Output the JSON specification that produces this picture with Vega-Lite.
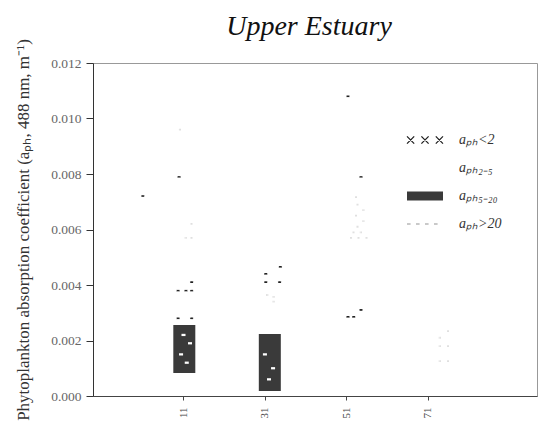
{
  "$schema": "https://vega.github.io/schema/vega-lite/v6.json",
  "autosize": "none",
  "width": 444,
  "height": 333,
  "padding": {"left": 93, "top": 63, "right": 1, "bottom": 35},
  "background": "white",
  "config": {
    "font": "Liberation Serif",
    "view": {"stroke": "#999", "strokeWidth": 1},
    "legend": {"symbolSize": 1296}
  },
  "title": {
    "text": "Upper Estuary",
    "font": "Liberation Serif",
    "fontStyle": "italic",
    "fontWeight": "normal",
    "fontSize": 28,
    "color": "#111",
    "anchor": "middle",
    "dx": -6,
    "offset": -2
  },
  "datasets": {
    "bars": [
      {"pos": 1.01, "lo": 0.00083, "hi": 0.00256, "series": "aₚₕ₅₋₂₀"},
      {"pos": 2.06, "lo": 0.00018, "hi": 0.00223, "series": "aₚₕ₅₋₂₀"}
    ],
    "points": [
      {"pos": 0.5, "value": 0.0072, "series": "aₚₕ<2"},
      {"pos": 0.958, "value": 0.0096, "series": "aₚₕ>20"},
      {"pos": 0.946, "value": 0.0079, "series": "aₚₕ<2"},
      {"pos": 1.10, "value": 0.0062, "series": "aₚₕ>20"},
      {"pos": 1.03, "value": 0.0057, "series": "aₚₕ>20"},
      {"pos": 1.10, "value": 0.0057, "series": "aₚₕ>20"},
      {"pos": 1.10, "value": 0.0041, "series": "aₚₕ<2"},
      {"pos": 0.934, "value": 0.0038, "series": "aₚₕ<2"},
      {"pos": 1.03, "value": 0.0038, "series": "aₚₕ<2"},
      {"pos": 1.10, "value": 0.0038, "series": "aₚₕ<2"},
      {"pos": 0.934, "value": 0.0028, "series": "aₚₕ<2"},
      {"pos": 1.10, "value": 0.0028, "series": "aₚₕ<2"},
      {"pos": 1.00, "value": 0.0022, "series": "aₚₕ₂₋₅"},
      {"pos": 1.08, "value": 0.0019, "series": "aₚₕ₂₋₅"},
      {"pos": 0.97, "value": 0.0015, "series": "aₚₕ₂₋₅"},
      {"pos": 1.04, "value": 0.0012, "series": "aₚₕ₂₋₅"},
      {"pos": 2.19, "value": 0.00465, "series": "aₚₕ<2"},
      {"pos": 2.01, "value": 0.0044, "series": "aₚₕ<2"},
      {"pos": 2.01, "value": 0.0041, "series": "aₚₕ<2"},
      {"pos": 2.18, "value": 0.0041, "series": "aₚₕ<2"},
      {"pos": 2.03, "value": 0.00364, "series": "aₚₕ>20"},
      {"pos": 2.11, "value": 0.00357, "series": "aₚₕ>20"},
      {"pos": 2.11, "value": 0.0034, "series": "aₚₕ>20"},
      {"pos": 2.00, "value": 0.0015, "series": "aₚₕ₂₋₅"},
      {"pos": 2.10, "value": 0.0010, "series": "aₚₕ₂₋₅"},
      {"pos": 2.05, "value": 0.0006, "series": "aₚₕ₂₋₅"},
      {"pos": 3.02, "value": 0.0108, "series": "aₚₕ<2"},
      {"pos": 3.18, "value": 0.0079, "series": "aₚₕ<2"},
      {"pos": 3.12, "value": 0.00717, "series": "aₚₕ>20"},
      {"pos": 3.14, "value": 0.0069, "series": "aₚₕ>20"},
      {"pos": 3.21, "value": 0.0067, "series": "aₚₕ>20"},
      {"pos": 3.12, "value": 0.0065, "series": "aₚₕ>20"},
      {"pos": 3.21, "value": 0.0063, "series": "aₚₕ>20"},
      {"pos": 3.14, "value": 0.0061, "series": "aₚₕ>20"},
      {"pos": 3.09, "value": 0.0059, "series": "aₚₕ>20"},
      {"pos": 3.18, "value": 0.0059, "series": "aₚₕ>20"},
      {"pos": 3.06, "value": 0.0057, "series": "aₚₕ>20"},
      {"pos": 3.15, "value": 0.0057, "series": "aₚₕ>20"},
      {"pos": 3.25, "value": 0.0057, "series": "aₚₕ>20"},
      {"pos": 3.18, "value": 0.0031, "series": "aₚₕ<2"},
      {"pos": 3.02, "value": 0.00285, "series": "aₚₕ<2"},
      {"pos": 3.09, "value": 0.00285, "series": "aₚₕ<2"},
      {"pos": 4.25, "value": 0.00234, "series": "aₚₕ>20"},
      {"pos": 4.15, "value": 0.0021, "series": "aₚₕ>20"},
      {"pos": 4.15, "value": 0.0018, "series": "aₚₕ>20"},
      {"pos": 4.25, "value": 0.0018, "series": "aₚₕ>20"},
      {"pos": 4.15, "value": 0.00126, "series": "aₚₕ>20"},
      {"pos": 4.25, "value": 0.00126, "series": "aₚₕ>20"}
    ]
  },
  "layer": [
    {
      "data": {"name": "bars"},
      "mark": {"type": "bar", "width": 22, "color": "#3a3a3a"},
      "encoding": {
        "x": {"field": "pos", "type": "quantitative"},
        "y": {"field": "lo", "type": "quantitative"},
        "y2": {"field": "hi"}
      }
    },
    {
      "data": {"name": "points"},
      "mark": {"type": "point", "filled": false, "size": 5, "strokeWidth": 1.8, "opacity": 1},
      "encoding": {
        "x": {
          "field": "pos",
          "type": "quantitative",
          "scale": {"domain": [-0.05, 5.28], "nice": false, "zero": false},
          "axis": {
            "title": null,
            "values": [1, 2, 3, 4],
            "labelExpr": "datum.value == 1 ? '11' : datum.value == 2 ? '31' : datum.value == 3 ? '51' : '71'",
            "labelAngle": 270,
            "labelFont": "Liberation Serif",
            "labelFontSize": 11,
            "labelColor": "#444",
            "labelPadding": 7,
            "tickSize": 4,
            "tickColor": "#444",
            "domainColor": "#444",
            "grid": false
          }
        },
        "y": {
          "field": "value",
          "type": "quantitative",
          "scale": {"domain": [0, 0.012], "nice": false},
          "axis": {
            "title": "Phytoplankton absorption coefficient (aₚₕ, 488 nm, m⁻¹)",
            "titleFont": "Liberation Serif",
            "titleFontSize": 17,
            "titleFontWeight": "normal",
            "titleColor": "#333",
            "titlePadding": 18,
            "values": [0, 0.002, 0.004, 0.006, 0.008, 0.01, 0.012],
            "format": ".3f",
            "labelFont": "Liberation Serif",
            "labelFontSize": 13.5,
            "labelColor": "#666",
            "labelPadding": 5,
            "tickSize": 7,
            "tickColor": "#333",
            "domainColor": "#333",
            "grid": false
          }
        },
        "color": {
          "field": "series",
          "type": "nominal",
          "scale": {
            "domain": ["aₚₕ<2", "aₚₕ₂₋₅", "aₚₕ₅₋₂₀", "aₚₕ>20"],
            "range": ["#222222", "#ffffff", "#3a3a3a", "#b8b8b8"]
          },
          "legend": {
            "title": null,
            "orient": "none",
            "legendX": 313,
            "legendY": 63,
            "padding": 0,
            "rowPadding": 0,
            "clipHeight": 28,
            "symbolSize": 1296,
            "labelFont": "Liberation Serif",
            "labelFontSize": 14,
            "labelFontStyle": "italic",
            "labelColor": "#333",
            "labelOffset": 15,
            "symbolStrokeWidth": 1.3
          }
        },
        "shape": {
          "field": "series",
          "type": "nominal",
          "scale": {
            "domain": ["aₚₕ<2", "aₚₕ₂₋₅", "aₚₕ₅₋₂₀", "aₚₕ>20"],
            "range": [
              "M-1,-0.2L-0.6,0.2M-1,0.2L-0.6,-0.2M-0.2,-0.2L0.2,0.2M-0.2,0.2L0.2,-0.2M0.6,-0.2L1,0.2M0.6,0.2L1,-0.2",
              "M-1,-0.2H1V0.2H-1Z",
              "M-1,-0.21H1M-1,-0.15H1M-1,-0.09H1M-1,-0.03H1M-1,0.03H1M-1,0.09H1M-1,0.15H1M-1,0.21H1",
              "M-1,0H-0.8M-0.5,0H-0.3M0,0H0.2M0.5,0H0.7"
            ]
          },
          "legend": {
            "title": null,
            "orient": "none",
            "legendX": 313,
            "legendY": 63,
            "padding": 0,
            "rowPadding": 0,
            "clipHeight": 28,
            "symbolSize": 1296,
            "labelFont": "Liberation Serif",
            "labelFontSize": 14,
            "labelFontStyle": "italic",
            "labelColor": "#333",
            "labelOffset": 15,
            "symbolStrokeWidth": 1.3
          }
        }
      }
    },
    {
      "mark": {"type": "text", "text": "a", "font": "Liberation Serif", "fontWeight": "bold", "fontSize": 13, "color": "#222"},
      "encoding": {
        "x": {"datum": 5.2, "type": "quantitative"},
        "y": {"datum": 0.01145, "type": "quantitative"}
      }
    }
  ]
}
